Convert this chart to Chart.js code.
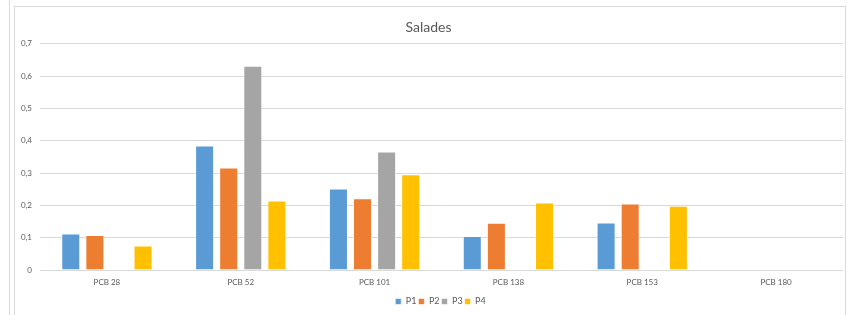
<!DOCTYPE html>
<html>
<head>
<meta charset="utf-8">
<script src="https://cdn.jsdelivr.net/npm/chart.js@4"></script>
<style>
    html, body { margin: 0; padding: 0; background: #fff; }
    #wrap { position: relative; width: 849px; height: 315px; overflow: hidden; }
    #leftLine { position: absolute; left: 9px; top: 0; width: 1px; height: 315px; background: #d9d9d9; }
    #frame { position: absolute; left: 14px; top: 6px; width: 832px; height: 320px; border: 1px solid #d9d9d9; box-sizing: border-box; }
    canvas { position: absolute; left: 0; top: 0; }
</style>
</head>
<body>
<div id="wrap">
    <div id="leftLine"></div>
    <div id="frame"></div>
    <canvas id="chart" width="849" height="315"></canvas>
</div>
<script>
// Veriler
const categories = ['PCB 28', 'PCB 52', 'PCB 101', 'PCB 138', 'PCB 153', 'PCB 180'];
const p1 = [0.113, 0.385, 0.252, 0.105, 0.147, null];
const p2 = [0.108, 0.317, 0.222, 0.146, 0.206, null];
const p3 = [null, 0.632, 0.367, null, null, null];
const p4 = [0.076, 0.215, 0.296, 0.209, 0.199, null];
const yTicks = [0, 0.1, 0.2, 0.3, 0.4, 0.5, 0.6, 0.7];

const textColor = '#595959';
const fontFamily = 'Lato, "Open Sans", sans-serif';

function makeSet(label, data, color) {
    return {
        label: label,
        data: data,
        backgroundColor: color,
        borderColor: 'rgba(255,255,255,0.6)',
        borderWidth: 1,
        categoryPercentage: 0.72,
        barPercentage: 0.79
    };
}

// Lejantı biraz sağa kaydır
const legendShift = {
    id: 'legendShift',
    afterLayout(chart) {
        if (chart.legend) {
            chart.legend.left += 12;
            chart.legend.right += 12;
        }
    }
};

const ctx = document.getElementById('chart').getContext('2d');
new Chart(ctx, {
    type: 'bar',
    data: {
        labels: categories,
        datasets: [
            makeSet('P1', p1, '#5B9BD5'),
            makeSet('P2', p2, '#ED7D31'),
            makeSet('P3', p3, '#A5A5A5'),
            makeSet('P4', p4, '#FFC000')
        ]
    },
    plugins: [legendShift],
    options: {
        responsive: false,
        animation: false,
        layout: { padding: { left: 14, right: 6, top: 11, bottom: -1 } },
        plugins: {
            title: {
                display: true,
                text: 'Salades',
                color: textColor,
                font: { family: fontFamily, size: 14, weight: 'normal' },
                padding: { top: 8, bottom: 8 }
            },
            legend: {
                position: 'bottom',
                labels: {
                    color: textColor,
                    font: { family: fontFamily, size: 9 },
                    boxWidth: 6,
                    boxHeight: 6,
                    padding: 2
                }
            },
            tooltip: { enabled: false }
        },
        scales: {
            x: {
                afterFit: s => { s.height = 25; },
                grid: { display: false, drawTicks: false },
                border: { display: false },
                ticks: {
                    color: textColor,
                    font: { family: fontFamily, size: 8 },
                    padding: 8
                }
            },
            y: {
                min: 0,
                max: 0.7,
                afterFit: s => { s.width = 26; },
                afterBuildTicks: s => { s.ticks = yTicks.map(v => ({ value: v })); },
                grid: { color: '#d9d9d9', drawTicks: false },
                border: { display: false },
                ticks: {
                    color: textColor,
                    font: { family: fontFamily, size: 8 },
                    padding: 8,
                    callback: v => String(Math.round(v * 10) / 10).replace('.', ',')
                }
            }
        }
    }
});
</script>
</body>
</html>
